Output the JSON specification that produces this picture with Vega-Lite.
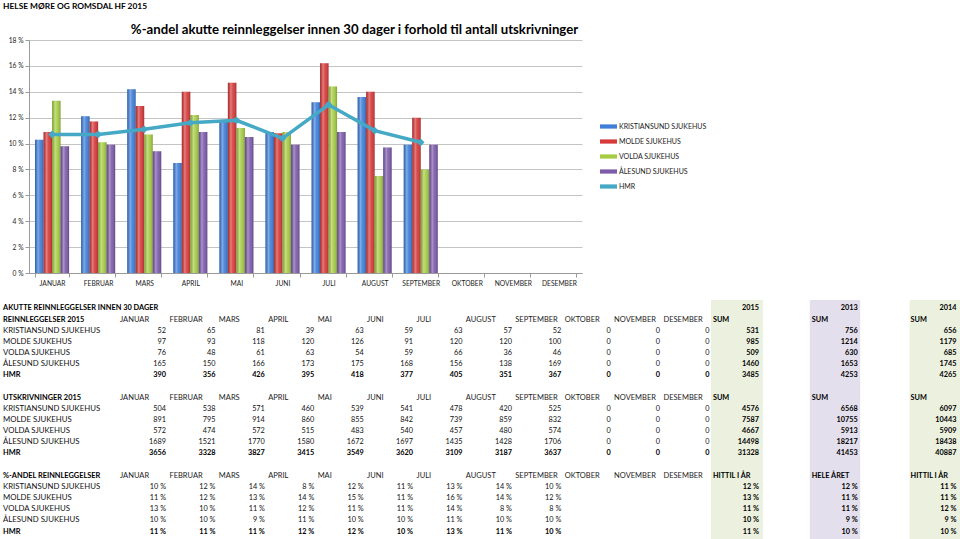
{
"$schema":"https://vega.github.io/schema/vega-lite/v6.json",
"background":"white",
"padding":{"left":3,"top":1,"right":0,"bottom":0},
"spacing":13,
"title":{"text":"HELSE MØRE OG ROMSDAL HF 2015","anchor":"start","font":"Lato","fontSize":8.4,"fontWeight":"bold","color":"#000","offset":12.6},
"config":{"view":{"stroke":null},"font":"Lato"},
"resolve":{"scale":{"x":"independent","y":"independent","color":"independent","fill":"independent"}},
"datasets":{
"pct":[
{"m":"JANUAR","h":"KRISTIANSUND SJUKEHUS","v":10.3},{"m":"FEBRUAR","h":"KRISTIANSUND SJUKEHUS","v":12.1},{"m":"MARS","h":"KRISTIANSUND SJUKEHUS","v":14.2},{"m":"APRIL","h":"KRISTIANSUND SJUKEHUS","v":8.5},{"m":"MAI","h":"KRISTIANSUND SJUKEHUS","v":11.7},{"m":"JUNI","h":"KRISTIANSUND SJUKEHUS","v":10.9},{"m":"JULI","h":"KRISTIANSUND SJUKEHUS","v":13.2},{"m":"AUGUST","h":"KRISTIANSUND SJUKEHUS","v":13.6},{"m":"SEPTEMBER","h":"KRISTIANSUND SJUKEHUS","v":9.9},
{"m":"JANUAR","h":"MOLDE SJUKEHUS","v":10.9},{"m":"FEBRUAR","h":"MOLDE SJUKEHUS","v":11.7},{"m":"MARS","h":"MOLDE SJUKEHUS","v":12.9},{"m":"APRIL","h":"MOLDE SJUKEHUS","v":14.0},{"m":"MAI","h":"MOLDE SJUKEHUS","v":14.7},{"m":"JUNI","h":"MOLDE SJUKEHUS","v":10.8},{"m":"JULI","h":"MOLDE SJUKEHUS","v":16.2},{"m":"AUGUST","h":"MOLDE SJUKEHUS","v":14.0},{"m":"SEPTEMBER","h":"MOLDE SJUKEHUS","v":12.0},
{"m":"JANUAR","h":"VOLDA SJUKEHUS","v":13.3},{"m":"FEBRUAR","h":"VOLDA SJUKEHUS","v":10.1},{"m":"MARS","h":"VOLDA SJUKEHUS","v":10.7},{"m":"APRIL","h":"VOLDA SJUKEHUS","v":12.2},{"m":"MAI","h":"VOLDA SJUKEHUS","v":11.2},{"m":"JUNI","h":"VOLDA SJUKEHUS","v":10.9},{"m":"JULI","h":"VOLDA SJUKEHUS","v":14.4},{"m":"AUGUST","h":"VOLDA SJUKEHUS","v":7.5},{"m":"SEPTEMBER","h":"VOLDA SJUKEHUS","v":8.0},
{"m":"JANUAR","h":"ÅLESUND SJUKEHUS","v":9.8},{"m":"FEBRUAR","h":"ÅLESUND SJUKEHUS","v":9.9},{"m":"MARS","h":"ÅLESUND SJUKEHUS","v":9.4},{"m":"APRIL","h":"ÅLESUND SJUKEHUS","v":10.9},{"m":"MAI","h":"ÅLESUND SJUKEHUS","v":10.5},{"m":"JUNI","h":"ÅLESUND SJUKEHUS","v":9.9},{"m":"JULI","h":"ÅLESUND SJUKEHUS","v":10.9},{"m":"AUGUST","h":"ÅLESUND SJUKEHUS","v":9.7},{"m":"SEPTEMBER","h":"ÅLESUND SJUKEHUS","v":9.9},
{"m":"JANUAR","h":"HMR","v":10.7},{"m":"FEBRUAR","h":"HMR","v":10.7},{"m":"MARS","h":"HMR","v":11.1},{"m":"APRIL","h":"HMR","v":11.6},{"m":"MAI","h":"HMR","v":11.8},{"m":"JUNI","h":"HMR","v":10.4},{"m":"JULI","h":"HMR","v":13.0},{"m":"AUGUST","h":"HMR","v":11.0},{"m":"SEPTEMBER","h":"HMR","v":10.1}
],
"shade":[{"yr":"2015","c0":11.03,"c1":12.08},{"yr":"2013","c0":13.03,"c1":14.05},{"yr":"2014","c0":15.05,"c1":16.07}],
"cells":[
{"r":0,"c":-1,"t":"AKUTTE REINNLEGGELSER INNEN 30 DAGER"},{"r":0,"c":12,"t":"2015"},{"r":0,"c":14,"t":"2013"},{"r":0,"c":16,"t":"2014"},
{"r":1,"c":-1,"t":"REINNLEGGELSER 2015"},{"r":1,"c":0,"t":"JANUAR"},{"r":1,"c":1,"t":"FEBRUAR"},{"r":1,"c":2,"t":"MARS"},{"r":1,"c":3,"t":"APRIL"},{"r":1,"c":4,"t":"MAI"},{"r":1,"c":5,"t":"JUNI"},{"r":1,"c":6,"t":"JULI"},{"r":1,"c":7,"t":"AUGUST"},{"r":1,"c":8,"t":"SEPTEMBER"},{"r":1,"c":9,"t":"OKTOBER"},{"r":1,"c":10,"t":"NOVEMBER"},{"r":1,"c":11,"t":"DESEMBER"},{"r":1,"c":12,"t":"SUM"},{"r":1,"c":14,"t":"SUM"},{"r":1,"c":16,"t":"SUM"},
{"r":2,"c":-1,"t":"KRISTIANSUND SJUKEHUS"},{"r":2,"c":0,"t":"52"},{"r":2,"c":1,"t":"65"},{"r":2,"c":2,"t":"81"},{"r":2,"c":3,"t":"39"},{"r":2,"c":4,"t":"63"},{"r":2,"c":5,"t":"59"},{"r":2,"c":6,"t":"63"},{"r":2,"c":7,"t":"57"},{"r":2,"c":8,"t":"52"},{"r":2,"c":9,"t":"0"},{"r":2,"c":10,"t":"0"},{"r":2,"c":11,"t":"0"},{"r":2,"c":12,"t":"531"},{"r":2,"c":14,"t":"756"},{"r":2,"c":16,"t":"656"},
{"r":3,"c":-1,"t":"MOLDE SJUKEHUS"},{"r":3,"c":0,"t":"97"},{"r":3,"c":1,"t":"93"},{"r":3,"c":2,"t":"118"},{"r":3,"c":3,"t":"120"},{"r":3,"c":4,"t":"126"},{"r":3,"c":5,"t":"91"},{"r":3,"c":6,"t":"120"},{"r":3,"c":7,"t":"120"},{"r":3,"c":8,"t":"100"},{"r":3,"c":9,"t":"0"},{"r":3,"c":10,"t":"0"},{"r":3,"c":11,"t":"0"},{"r":3,"c":12,"t":"985"},{"r":3,"c":14,"t":"1214"},{"r":3,"c":16,"t":"1179"},
{"r":4,"c":-1,"t":"VOLDA SJUKEHUS"},{"r":4,"c":0,"t":"76"},{"r":4,"c":1,"t":"48"},{"r":4,"c":2,"t":"61"},{"r":4,"c":3,"t":"63"},{"r":4,"c":4,"t":"54"},{"r":4,"c":5,"t":"59"},{"r":4,"c":6,"t":"66"},{"r":4,"c":7,"t":"36"},{"r":4,"c":8,"t":"46"},{"r":4,"c":9,"t":"0"},{"r":4,"c":10,"t":"0"},{"r":4,"c":11,"t":"0"},{"r":4,"c":12,"t":"509"},{"r":4,"c":14,"t":"630"},{"r":4,"c":16,"t":"685"},
{"r":5,"c":-1,"t":"ÅLESUND SJUKEHUS"},{"r":5,"c":0,"t":"165"},{"r":5,"c":1,"t":"150"},{"r":5,"c":2,"t":"166"},{"r":5,"c":3,"t":"173"},{"r":5,"c":4,"t":"175"},{"r":5,"c":5,"t":"168"},{"r":5,"c":6,"t":"156"},{"r":5,"c":7,"t":"138"},{"r":5,"c":8,"t":"169"},{"r":5,"c":9,"t":"0"},{"r":5,"c":10,"t":"0"},{"r":5,"c":11,"t":"0"},{"r":5,"c":12,"t":"1460"},{"r":5,"c":14,"t":"1653"},{"r":5,"c":16,"t":"1745"},
{"r":6,"c":-1,"t":"HMR"},{"r":6,"c":0,"t":"390"},{"r":6,"c":1,"t":"356"},{"r":6,"c":2,"t":"426"},{"r":6,"c":3,"t":"395"},{"r":6,"c":4,"t":"418"},{"r":6,"c":5,"t":"377"},{"r":6,"c":6,"t":"405"},{"r":6,"c":7,"t":"351"},{"r":6,"c":8,"t":"367"},{"r":6,"c":9,"t":"0"},{"r":6,"c":10,"t":"0"},{"r":6,"c":11,"t":"0"},{"r":6,"c":12,"t":"3485"},{"r":6,"c":14,"t":"4253"},{"r":6,"c":16,"t":"4265"},
{"r":8,"c":-1,"t":"UTSKRIVNINGER 2015"},{"r":8,"c":0,"t":"JANUAR"},{"r":8,"c":1,"t":"FEBRUAR"},{"r":8,"c":2,"t":"MARS"},{"r":8,"c":3,"t":"APRIL"},{"r":8,"c":4,"t":"MAI"},{"r":8,"c":5,"t":"JUNI"},{"r":8,"c":6,"t":"JULI"},{"r":8,"c":7,"t":"AUGUST"},{"r":8,"c":8,"t":"SEPTEMBER"},{"r":8,"c":9,"t":"OKTOBER"},{"r":8,"c":10,"t":"NOVEMBER"},{"r":8,"c":11,"t":"DESEMBER"},{"r":8,"c":12,"t":"SUM"},{"r":8,"c":14,"t":"SUM"},{"r":8,"c":16,"t":"SUM"},
{"r":9,"c":-1,"t":"KRISTIANSUND SJUKEHUS"},{"r":9,"c":0,"t":"504"},{"r":9,"c":1,"t":"538"},{"r":9,"c":2,"t":"571"},{"r":9,"c":3,"t":"460"},{"r":9,"c":4,"t":"539"},{"r":9,"c":5,"t":"541"},{"r":9,"c":6,"t":"478"},{"r":9,"c":7,"t":"420"},{"r":9,"c":8,"t":"525"},{"r":9,"c":9,"t":"0"},{"r":9,"c":10,"t":"0"},{"r":9,"c":11,"t":"0"},{"r":9,"c":12,"t":"4576"},{"r":9,"c":14,"t":"6568"},{"r":9,"c":16,"t":"6097"},
{"r":10,"c":-1,"t":"MOLDE SJUKEHUS"},{"r":10,"c":0,"t":"891"},{"r":10,"c":1,"t":"795"},{"r":10,"c":2,"t":"914"},{"r":10,"c":3,"t":"860"},{"r":10,"c":4,"t":"855"},{"r":10,"c":5,"t":"842"},{"r":10,"c":6,"t":"739"},{"r":10,"c":7,"t":"859"},{"r":10,"c":8,"t":"832"},{"r":10,"c":9,"t":"0"},{"r":10,"c":10,"t":"0"},{"r":10,"c":11,"t":"0"},{"r":10,"c":12,"t":"7587"},{"r":10,"c":14,"t":"10755"},{"r":10,"c":16,"t":"10443"},
{"r":11,"c":-1,"t":"VOLDA SJUKEHUS"},{"r":11,"c":0,"t":"572"},{"r":11,"c":1,"t":"474"},{"r":11,"c":2,"t":"572"},{"r":11,"c":3,"t":"515"},{"r":11,"c":4,"t":"483"},{"r":11,"c":5,"t":"540"},{"r":11,"c":6,"t":"457"},{"r":11,"c":7,"t":"480"},{"r":11,"c":8,"t":"574"},{"r":11,"c":9,"t":"0"},{"r":11,"c":10,"t":"0"},{"r":11,"c":11,"t":"0"},{"r":11,"c":12,"t":"4667"},{"r":11,"c":14,"t":"5913"},{"r":11,"c":16,"t":"5909"},
{"r":12,"c":-1,"t":"ÅLESUND SJUKEHUS"},{"r":12,"c":0,"t":"1689"},{"r":12,"c":1,"t":"1521"},{"r":12,"c":2,"t":"1770"},{"r":12,"c":3,"t":"1580"},{"r":12,"c":4,"t":"1672"},{"r":12,"c":5,"t":"1697"},{"r":12,"c":6,"t":"1435"},{"r":12,"c":7,"t":"1428"},{"r":12,"c":8,"t":"1706"},{"r":12,"c":9,"t":"0"},{"r":12,"c":10,"t":"0"},{"r":12,"c":11,"t":"0"},{"r":12,"c":12,"t":"14498"},{"r":12,"c":14,"t":"18217"},{"r":12,"c":16,"t":"18438"},
{"r":13,"c":-1,"t":"HMR"},{"r":13,"c":0,"t":"3656"},{"r":13,"c":1,"t":"3328"},{"r":13,"c":2,"t":"3827"},{"r":13,"c":3,"t":"3415"},{"r":13,"c":4,"t":"3549"},{"r":13,"c":5,"t":"3620"},{"r":13,"c":6,"t":"3109"},{"r":13,"c":7,"t":"3187"},{"r":13,"c":8,"t":"3637"},{"r":13,"c":9,"t":"0"},{"r":13,"c":10,"t":"0"},{"r":13,"c":11,"t":"0"},{"r":13,"c":12,"t":"31328"},{"r":13,"c":14,"t":"41453"},{"r":13,"c":16,"t":"40887"},
{"r":15,"c":-1,"t":"%-ANDEL REINNLEGGELSER"},{"r":15,"c":0,"t":"JANUAR"},{"r":15,"c":1,"t":"FEBRUAR"},{"r":15,"c":2,"t":"MARS"},{"r":15,"c":3,"t":"APRIL"},{"r":15,"c":4,"t":"MAI"},{"r":15,"c":5,"t":"JUNI"},{"r":15,"c":6,"t":"JULI"},{"r":15,"c":7,"t":"AUGUST"},{"r":15,"c":8,"t":"SEPTEMBER"},{"r":15,"c":9,"t":"OKTOBER"},{"r":15,"c":10,"t":"NOVEMBER"},{"r":15,"c":11,"t":"DESEMBER"},{"r":15,"c":12,"t":"HITTIL I ÅR"},{"r":15,"c":14,"t":"HELE ÅRET"},{"r":15,"c":16,"t":"HITTIL I ÅR"},
{"r":16,"c":-1,"t":"KRISTIANSUND SJUKEHUS"},{"r":16,"c":0,"t":"10 %"},{"r":16,"c":1,"t":"12 %"},{"r":16,"c":2,"t":"14 %"},{"r":16,"c":3,"t":"8 %"},{"r":16,"c":4,"t":"12 %"},{"r":16,"c":5,"t":"11 %"},{"r":16,"c":6,"t":"13 %"},{"r":16,"c":7,"t":"14 %"},{"r":16,"c":8,"t":"10 %"},{"r":16,"c":12,"t":"12 %"},{"r":16,"c":14,"t":"12 %"},{"r":16,"c":16,"t":"11 %"},
{"r":17,"c":-1,"t":"MOLDE SJUKEHUS"},{"r":17,"c":0,"t":"11 %"},{"r":17,"c":1,"t":"12 %"},{"r":17,"c":2,"t":"13 %"},{"r":17,"c":3,"t":"14 %"},{"r":17,"c":4,"t":"15 %"},{"r":17,"c":5,"t":"11 %"},{"r":17,"c":6,"t":"16 %"},{"r":17,"c":7,"t":"14 %"},{"r":17,"c":8,"t":"12 %"},{"r":17,"c":12,"t":"13 %"},{"r":17,"c":14,"t":"11 %"},{"r":17,"c":16,"t":"11 %"},
{"r":18,"c":-1,"t":"VOLDA SJUKEHUS"},{"r":18,"c":0,"t":"13 %"},{"r":18,"c":1,"t":"10 %"},{"r":18,"c":2,"t":"11 %"},{"r":18,"c":3,"t":"12 %"},{"r":18,"c":4,"t":"11 %"},{"r":18,"c":5,"t":"11 %"},{"r":18,"c":6,"t":"14 %"},{"r":18,"c":7,"t":"8 %"},{"r":18,"c":8,"t":"8 %"},{"r":18,"c":12,"t":"11 %"},{"r":18,"c":14,"t":"11 %"},{"r":18,"c":16,"t":"12 %"},
{"r":19,"c":-1,"t":"ÅLESUND SJUKEHUS"},{"r":19,"c":0,"t":"10 %"},{"r":19,"c":1,"t":"10 %"},{"r":19,"c":2,"t":"9 %"},{"r":19,"c":3,"t":"11 %"},{"r":19,"c":4,"t":"10 %"},{"r":19,"c":5,"t":"10 %"},{"r":19,"c":6,"t":"11 %"},{"r":19,"c":7,"t":"10 %"},{"r":19,"c":8,"t":"10 %"},{"r":19,"c":12,"t":"10 %"},{"r":19,"c":14,"t":"9 %"},{"r":19,"c":16,"t":"9 %"},
{"r":20,"c":-1,"t":"HMR"},{"r":20,"c":0,"t":"11 %"},{"r":20,"c":1,"t":"11 %"},{"r":20,"c":2,"t":"11 %"},{"r":20,"c":3,"t":"12 %"},{"r":20,"c":4,"t":"12 %"},{"r":20,"c":5,"t":"10 %"},{"r":20,"c":6,"t":"13 %"},{"r":20,"c":7,"t":"11 %"},{"r":20,"c":8,"t":"10 %"},{"r":20,"c":12,"t":"11 %"},{"r":20,"c":14,"t":"10 %"},{"r":20,"c":16,"t":"10 %"}
]
},
"vconcat":[
{
"width":553,"height":233,
"title":{"text":"%-andel akutte reinnleggelser innen 30 dager i forhold til antall utskrivninger","anchor":"middle","dx":49,"font":"Lato","fontSize":13.2,"fontWeight":"bold","color":"#000","offset":0},
"data":{"name":"pct"},
"encoding":{
"x":{"field":"m","type":"nominal","scale":{"domain":["JANUAR","FEBRUAR","MARS","APRIL","MAI","JUNI","JULI","AUGUST","SEPTEMBER","OKTOBER","NOVEMBER","DESEMBER"],"paddingInner":0.26,"paddingOuter":0.13},"axis":{"title":null,"labelAngle":0,"labelFontSize":6.7,"labelColor":"#222","tickBand":"extent","tickSize":4,"tickColor":"#9a9a9a","domainColor":"#9a9a9a","labelPadding":3}},
"y":{"field":"v","type":"quantitative","scale":{"domain":[0,18],"nice":false},"axis":{"title":null,"values":[0,2,4,6,8,10,12,14,16,18],"labelExpr":"datum.value + ' %'","labelFontSize":6.7,"labelColor":"#222","gridColor":"#c4c4c4","tickSize":4,"tickColor":"#9a9a9a","domainColor":"#9a9a9a","labelPadding":2}}
},
"layer":[
{"transform":[{"filter":"datum.h != 'HMR'"}],"mark":{"type":"bar"},
"encoding":{
"xOffset":{"field":"h","type":"nominal","sort":["KRISTIANSUND SJUKEHUS","MOLDE SJUKEHUS","VOLDA SJUKEHUS","ÅLESUND SJUKEHUS"],"scale":{"paddingInner":0,"paddingOuter":0}},
"color":{"field":"h","type":"nominal","scale":{"domain":["KRISTIANSUND SJUKEHUS","MOLDE SJUKEHUS","VOLDA SJUKEHUS","ÅLESUND SJUKEHUS","HMR"],"range":["#3f7fd9","#d63a3a","#a6cc45","#7d5bab","#45a9c6"]},
"legend":{"orient":"none","legendX":575,"legendY":82,"title":null,"padding":0,"labelFont":"Lato","labelFontSize":7,"labelColor":"#222","symbolType":"M-2,-0.5H2V0.5H-2Z","symbolSize":72,"symbolStrokeWidth":0,"labelOffset":6,"rowPadding":7}}
}},
{"transform":[{"filter":"datum.h != 'HMR'"}],
"mark":{"type":"bar","color":{"gradient":"linear","x1":0,"y1":0,"x2":1,"y2":0,"stops":[{"offset":0,"color":"rgba(0,0,0,0.18)"},{"offset":0.35,"color":"rgba(255,255,255,0.35)"},{"offset":0.6,"color":"rgba(255,255,255,0.08)"},{"offset":1,"color":"rgba(0,0,0,0.22)"}]}},
"encoding":{"xOffset":{"field":"h","type":"nominal","sort":["KRISTIANSUND SJUKEHUS","MOLDE SJUKEHUS","VOLDA SJUKEHUS","ÅLESUND SJUKEHUS"]}}},
{"transform":[{"filter":"datum.h == 'HMR'"}],
"mark":{"type":"line","strokeWidth":3.5,"point":{"shape":"diamond","size":60,"filled":true}},
"encoding":{"color":{"field":"h","type":"nominal"}}}
]
},
{
"width":931,"height":240,
"layer":[
{"data":{"name":"shade"},"mark":{"type":"rect"},
"encoding":{
"x":{"field":"c0","type":"quantitative","scale":{"domain":[-2.7733,16.07],"nice":false,"zero":false},"axis":null},
"x2":{"field":"c1"},
"fill":{"field":"yr","type":"nominal","scale":{"domain":["2015","2013","2014"],"range":["#ebf1de","#e4dfec","#ebf1de"]},"legend":null}}},
{"data":{"name":"cells"},
"encoding":{
"x":{"field":"c","type":"quantitative","scale":{"domain":[-2.7733,16.07],"nice":false,"zero":false},"axis":null},
"y":{"field":"r","type":"quantitative","scale":{"domain":[-0.75,20.75],"reverse":true,"nice":false,"zero":false},"axis":null},
"text":{"field":"t"}},
"layer":[
{"transform":[{"filter":"datum.c == -1 && indexof([0,1,6,8,13,15,20], datum.r) < 0"}],"mark":{"type":"text","align":"left","baseline":"middle","dx":-113.6,"font":"Lato","fontSize":7.8,"color":"#111"}},
{"transform":[{"filter":"datum.c == -1 && indexof([0,1,6,8,13,15,20], datum.r) >= 0"}],"mark":{"type":"text","align":"left","baseline":"middle","dx":-113.6,"font":"Lato","fontSize":7.4,"fontWeight":"bold","color":"#000"}},
{"transform":[{"filter":"datum.c >= 0 && datum.c < 12 && indexof([1,8,15], datum.r) >= 0"}],"mark":{"type":"text","align":"left","baseline":"middle","dx":-46,"font":"Lato","fontSize":7.5,"color":"#222"}},
{"transform":[{"filter":"datum.c >= 12 && indexof([1,8,15], datum.r) >= 0"}],"mark":{"type":"text","align":"left","baseline":"middle","dx":-46,"font":"Lato","fontSize":7.3,"fontWeight":"bold","color":"#000"}},
{"transform":[{"filter":"datum.c >= 0 && datum.c < 12 && indexof([0,1,8,15,6,13,20], datum.r) < 0"}],"mark":{"type":"text","align":"right","baseline":"middle","font":"Lato","fontSize":7.3,"color":"#111"}},
{"transform":[{"filter":"datum.c >= 0 && indexof([1,8,15], datum.r) < 0 && (datum.c >= 12 || indexof([6,13,20], datum.r) >= 0)"}],"mark":{"type":"text","align":"right","baseline":"middle","font":"Lato","fontSize":7.3,"fontWeight":"bold","color":"#000"}}
]
}
]
}
]
}
